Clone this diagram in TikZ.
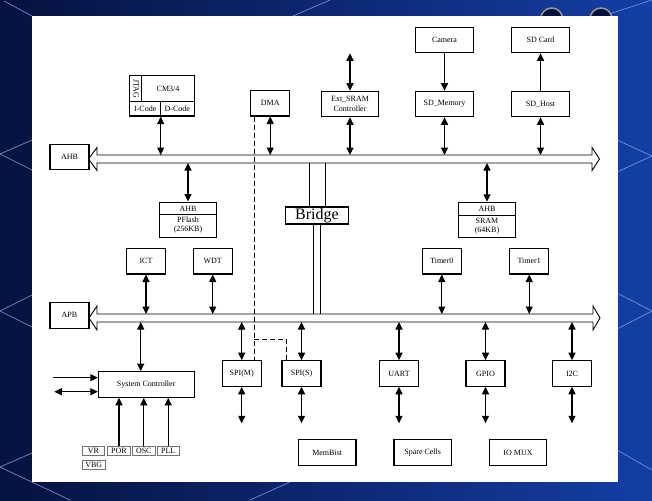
\documentclass[tikz,border=0pt]{standalone}
\usepackage{fontspec}
\setmainfont{Liberation Serif}
\usetikzlibrary{arrows.meta}
\definecolor{slideL}{RGB}{6,18,62}
\definecolor{slideR}{RGB}{20,62,165}
\definecolor{slideLine}{RGB}{125,155,225}
\tikzset{
    blk/.style={draw, line width=1.1pt, fill=white, inner sep=0pt,
        minimum width=39pt, minimum height=25.5pt,
        font=\fontsize{8}{9.5}\selectfont, align=center},
    wblk/.style={blk, minimum width=57.5pt},
    sig/.style={draw=black!55, line width=0.7pt, inner sep=0pt,
        minimum height=9pt, font=\fontsize{8}{8}\selectfont},
    lbl/.style={inner sep=0pt, font=\fontsize{8}{9}\selectfont},
    link/.style={line width=1.1pt,
        {Triangle[length=7.5pt,width=7pt]}-{Triangle[length=7.5pt,width=7pt]}},
    feed/.style={line width=1.1pt, -{Triangle[length=7.5pt,width=7pt]}},
    bus/.style={line width=0.9pt, fill=white},
    dmaline/.style={line width=0.9pt, dash pattern=on 5pt off 3pt},
    bgline/.style={slideLine, line width=0.6pt},
}
\begin{document}
\begin{tikzpicture}[x=1pt, y=-1pt]
    \useasboundingbox (0,0) rectangle (652,500);
    % slide background
    \shade[left color=slideL, right color=slideR] (0,0) rectangle (652,500);
    \draw[bgline] (4,1) -- (32,16);
    \draw[bgline] (293,16) -- (330,0);
    \draw[bgline] (603,16) -- (652,0);
    \draw[bgline] (32,140) -- (0,154) -- (32,170);
    \draw[bgline] (32,295) -- (0,311) -- (32,327);
    \draw[bgline] (32,453) -- (0,467) -- (70,500);
    \draw[bgline] (617,140) -- (652,156) -- (617,172);
    \draw[bgline] (617,293) -- (652,311) -- (617,329);
    \draw[bgline] (617,450) -- (652,470);
    \draw[bgline] (250,500) -- (290,482);
    \draw[black!40, fill=slideL, line width=1.5pt] (551.7,19) circle (11);
    \draw[black!40, fill=slideL, line width=1.5pt] (601,19) circle (11);
    \fill[white] (32,16) rectangle (617.5,482);

    % buses
    \draw[bus] (97,155) -- (592,155) -- (592,147.5) -- (599.5,159) -- (592,170.5)
        -- (592,163) -- (97,163) -- (97,170.5) -- (88.5,159) -- (97,147.5) -- cycle;
    \draw[bus] (97,314) -- (593,314) -- (593,306) -- (600,318) -- (593,330)
        -- (593,322) -- (97,322) -- (97,330) -- (89,318) -- (97,306) -- cycle;
    \coordinate (ahbT) at (0,155);
    \coordinate (ahbB) at (0,163);
    \coordinate (apbT) at (0,314);
    \coordinate (apbB) at (0,322);
    \coordinate (extTop) at (0,53.3);
    \coordinate (padB) at (0,423.3);
    \node[blk] (ahb) at (69.5,157) {AHB};
    \node[blk] (apb) at (69.5,315.3) {APB};

    % AHB side
    \node[blk, minimum width=64.6pt, minimum height=40.3pt] (cpu) at (162,95.85) {};
    \draw[line width=1.1pt] ([yshift=-26pt]cpu.north west) -- ([yshift=-26pt]cpu.north east);
    \draw[line width=1.1pt] ([xshift=12.6pt]cpu.north west) -- ([xshift=12.6pt,yshift=-26pt]cpu.north west);
    \draw[line width=1.1pt] ([xshift=-1.3pt]cpu.south) -- ([xshift=-1.3pt,yshift=14.3pt]cpu.south);
    \node[lbl, rotate=-90] (jtag) at (136.2,88.7) {JTAG};
    \node[lbl] (cm) at (168,88.7) {CM3/4};
    \node[lbl] (icode) at (145.2,109) {I-Code};
    \node[lbl] (dcode) at (177.3,109) {D-Code};
    \node[blk] (dma) at (270.2,103.2) {DMA};
    \node[wblk] (ext) at (350,104) {Ext\_SRAM\\Controller};
    \node[wblk] (sdmem) at (444.5,104) {SD\_Memory};
    \node[wblk] (sdhost) at (540.5,104) {SD\_Host};
    \node[wblk] (cam) at (444.5,40) {Camera};
    \node[wblk] (sdcard) at (540.5,40) {SD Card};

    \node[wblk, minimum height=35.3pt] (pflash) at (188,219.7) {};
    \draw[line width=1.1pt] ([yshift=-13pt]pflash.north west) -- ([yshift=-13pt]pflash.north east);
    \node[lbl] (pfahb) at (188,208.5) {AHB};
    \node[lbl, align=center] (pftxt) at (188,225.5) {PFlash\\(256KB)};
    \node[wblk, minimum height=35pt] (sram) at (487,219.8) {};
    \draw[line width=1.1pt] ([yshift=-13.4pt]sram.north west) -- ([yshift=-13.4pt]sram.north east);
    \node[lbl] (srahb) at (487,209) {AHB};
    \node[lbl, align=center] (srtxt) at (487,226) {SRAM\\(64KB)};

    \draw[link] ([xshift=-1.3pt]cpu.south) -- (160.7,0 |- ahbT);
    \draw[link] (dma.south) -- (dma.south |- ahbT);
    \draw[link] (ext.south) -- (ext.south |- ahbT);
    \draw[link] (ext.north) -- (ext.north |- extTop);
    \draw[link] (sdmem.south) -- (sdmem.south |- ahbT);
    \draw[link] (sdhost.south) -- (sdhost.south |- ahbT);
    \draw[feed] (cam.south) -- (sdmem.north);
    \draw[feed] (sdhost.north) -- (sdcard.south);
    \draw[link] (pflash.north) -- (pflash.north |- ahbB);
    \draw[link] (sram.north) -- (sram.north |- ahbB);

    % bridge
    \node[blk, minimum width=62.6pt, minimum height=17pt,
        font=\fontsize{16}{16}\selectfont] (bridge) at (317,215.5) {Bridge};
    \draw[line width=0.9pt] (309,0 |- ahbB) -- (309,0 |- bridge.north);
    \draw[line width=0.9pt] (325,0 |- ahbB) -- (325,0 |- bridge.north);
    \draw[line width=0.9pt] (313.3,0 |- bridge.south) -- (313.3,0 |- apbT);
    \draw[line width=0.9pt] (320.3,0 |- bridge.south) -- (320.3,0 |- apbT);

    % APB side
    \node[blk] (ict) at (146,261.2) {ICT};
    \node[blk] (wdt) at (212.7,261.2) {WDT};
    \node[blk] (tmr0) at (441.8,261.2) {Timer0};
    \node[blk] (tmr1) at (529.2,261.2) {Timer1};
    \foreach \n in {ict,wdt,tmr0,tmr1}
        \draw[link] (\n.south) -- (\n.south |- apbT);

    \node[blk, minimum width=95.7pt] (syc) at (146.2,384.5) {System Controller};
    \draw[link] (140.7,0 |- syc.north) -- (140.7,0 |- apbB);
    \coordinate (sin) at (53.3,377.7);
    \coordinate (sio) at (54.3,391.7);
    \draw[feed] (sin) -- (sin -| syc.west);
    \draw[link] (sio) -- (sio -| syc.west);

    \node[sig, minimum width=22.4pt] (vr) at (93.5,450.8) {VR};
    \node[sig, minimum width=22.6pt] (por) at (119,450.8) {POR};
    \node[sig, minimum width=23pt] (osc) at (143.8,450.8) {OSC};
    \node[sig, minimum width=22.3pt] (pll) at (168.2,450.8) {PLL};
    \node[sig, minimum width=23pt] (vbg) at (93.8,465.3) {VBG};
    \foreach \n in {por,osc,pll}
        \draw[feed] (\n.north) -- (\n.north |- syc.south);

    \node[blk] (spim) at (241.7,373.5) {SPI(M)};
    \node[blk] (spis) at (301.5,373.5) {SPI(S)};
    \node[blk] (uart) at (399,373.5) {UART};
    \node[blk] (gpio) at (485.5,373.5) {GPIO};
    \node[blk] (iic) at (572,373.5) {I2C};
    \foreach \n in {spim,spis,uart,gpio,iic} {
        \draw[link] (\n.north) -- (\n.north |- apbB);
        \draw[link] (\n.south) -- (\n.south |- padB);
    }

    % DMA request lines
    \coordinate (dtap) at ([xshift=4pt]dma.south west);
    \coordinate (dsplit) at (dtap |- 0,339);
    \coordinate (stap) at ([xshift=5pt]spis.north west);
    \draw[dmaline] (dtap) -- (dtap |- spim.north);
    \draw[dmaline] (dsplit) -| (stap);

    \node[wblk] (mbist) at (327.2,452.5) {MemBist};
    \node[wblk] (spare) at (422.7,452.5) {Spare Cells};
    \node[wblk] (iomux) at (518,452.5) {IO MUX};
\end{tikzpicture}
\end{document}
